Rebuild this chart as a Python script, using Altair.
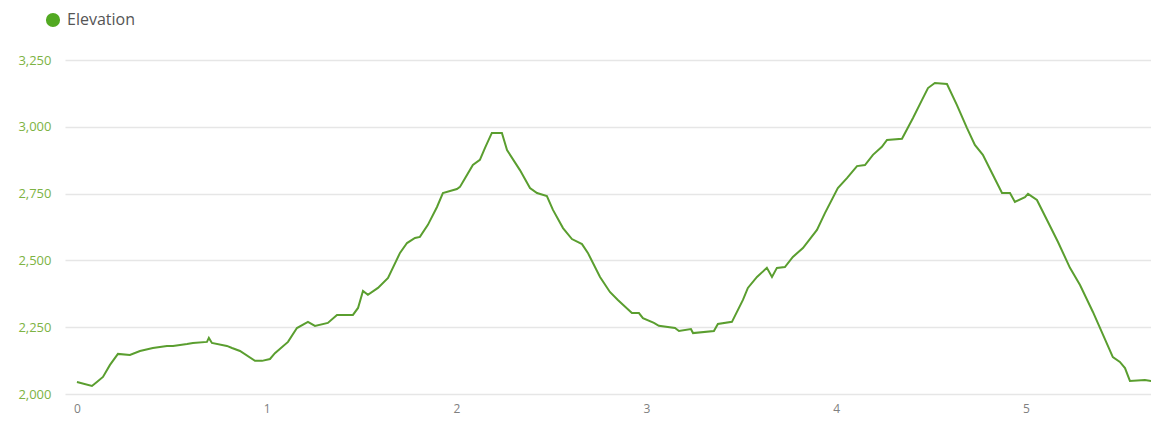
import altair as alt
import pandas as pd

# distance (x axis units) and elevation values
dist = [0.000, 0.079, 0.105, 0.137, 0.174, 0.216, 0.279, 0.332, 0.400, 0.474, 0.506, 0.580, 0.611, 0.685, 0.695, 0.711,
        0.790, 0.817, 0.859, 0.938, 0.975, 1.017, 1.043, 1.112, 1.159, 1.217, 1.254, 1.322, 1.370, 1.454, 1.481, 1.507,
        1.533, 1.586, 1.639, 1.702, 1.739, 1.781, 1.807, 1.849, 1.897, 1.928, 2.002, 2.018, 2.034, 2.086, 2.123, 2.150,
        2.186, 2.239, 2.266, 2.334, 2.387, 2.424, 2.476, 2.508, 2.561, 2.608, 2.661, 2.692, 2.756, 2.808, 2.850, 2.924,
        2.961, 2.982, 3.040, 3.066, 3.151, 3.172, 3.235, 3.246, 3.356, 3.377, 3.451, 3.509, 3.535, 3.583, 3.635, 3.662,
        3.688, 3.730, 3.772, 3.825, 3.899, 3.941, 4.009, 4.057, 4.110, 4.152, 4.194, 4.241, 4.268, 4.347, 4.405, 4.452,
        4.484, 4.520, 4.584, 4.636, 4.689, 4.731, 4.773, 4.821, 4.874, 4.916, 4.942, 4.995, 5.011, 5.058, 5.111, 5.169,
        5.232, 5.285, 5.353, 5.458, 5.495, 5.522, 5.548, 5.627, 5.701]
elev = [2045, 2030, 2045, 2064, 2109, 2150, 2146, 2161, 2172, 2180, 2180, 2187, 2191, 2195, 2210, 2191,
        2180, 2172, 2161, 2124, 2124, 2131, 2153, 2195, 2247, 2270, 2255, 2266, 2296, 2296, 2322, 2386,
        2371, 2397, 2434, 2528, 2565, 2584, 2588, 2633, 2700, 2752, 2767, 2775, 2794, 2857, 2876, 2921,
        2977, 2977, 2913, 2838, 2771, 2752, 2741, 2689, 2621, 2580, 2561, 2528, 2438, 2382, 2352, 2303,
        2303, 2284, 2266, 2255, 2247, 2236, 2243, 2228, 2236, 2262, 2270, 2352, 2397, 2438, 2472, 2438,
        2472, 2475, 2513, 2546, 2614, 2677, 2771, 2808, 2853, 2857, 2895, 2925, 2951, 2955, 3033, 3100,
        3145, 3164, 3160, 3082, 2996, 2932, 2895, 2827, 2752, 2752, 2719, 2737, 2749, 2726, 2651, 2569,
        2472, 2408, 2307, 2138, 2120, 2097, 2049, 2052, 2045]
series = ["Elevation"] * len(dist)

x_ticks = [0, 1, 2, 3, 4, 5]
y_ticks = [2000, 2250, 2500, 2750, 3000, 3250]

df = pd.DataFrame({"dist": dist, "elev": elev, "series": series})

line = alt.Chart(df).mark_line(strokeWidth=2, interpolate="linear", clip=True).encode(
    x=alt.X("dist:Q",
            scale=alt.Scale(domain=[-0.063, 5.659], nice=False, zero=False),
            axis=alt.Axis(values=x_ticks, title=None, grid=False, domain=False, ticks=False, tickSize=0,
                          labelPadding=9, labelFontSize=12, labelColor="#808080", labelFont="Open Sans",
                          format="d")),
    y=alt.Y("elev:Q",
            scale=alt.Scale(domain=[2000, 3250], nice=False, zero=False),
            axis=alt.Axis(values=y_ticks, title=None, grid=True, gridColor="#e6e6e6", gridWidth=1.5,
                          domain=False, ticks=False, tickSize=0, labelPadding=14, labelFontSize=13,
                          labelColor="#7db343", labelFont="Open Sans", format=",d")),
    color=alt.Color("series:N", scale=alt.Scale(range=["#5a9e2f"]),
                    legend=alt.Legend(title=None, orient="none", legendX=-20, legendY=-48,
                                      symbolType="circle", symbolSize=200, symbolFillColor="#52a922",
                                      symbolStrokeColor="#52a922", symbolStrokeWidth=0,
                                      labelFontSize=16, labelColor="#555555", labelFont="Open Sans",
                                      labelOffset=6)),
)

chart = line.properties(
    width=1086, height=334,
    autosize=alt.AutoSizeParams(type="none"),
    padding={"left": 57, "top": 52, "right": 0, "bottom": 30},
).configure_view(stroke=None)

chart.save("out.html", embed_options={"renderer": "svg", "actions": False})
